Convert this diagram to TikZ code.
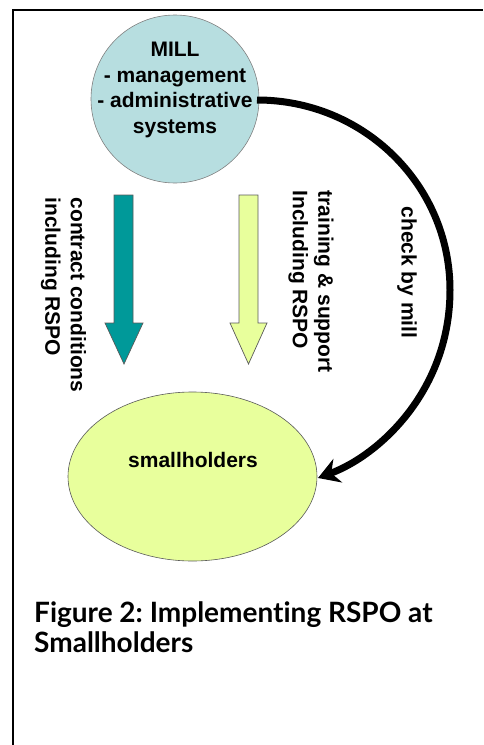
\documentclass[tikz,border=0pt]{standalone}
\usepackage{fontspec}
\setmainfont{Liberation Sans}
\newfontfamily\capfont[Ligatures=NoCommon]{Lato}
\usetikzlibrary{arrows.meta,shapes.geometric}
\definecolor{millblue}{RGB}{183,222,224}
\definecolor{teal2}{RGB}{0,153,153}
\definecolor{paleyel}{RGB}{232,255,156}
\definecolor{outl}{RGB}{90,90,90}
\tikzset{
  lbl/.style={font=\bfseries\fontsize{21}{25.5}\selectfont, inner sep=0pt, align=left},
  blockarrow/.style={draw=outl, line width=0.7pt},
  frameline/.style={line width=2.4pt, black},
}
\frenchspacing
\begin{document}
\begin{tikzpicture}[x=1pt,y=-1pt]
\useasboundingbox (0,0) rectangle (483,745);
% frame
\draw[frameline] (13,745) -- (13,10) -- (483,10);
% mill circle
\node[circle, draw=gray, line width=0.6pt, fill=millblue, minimum size=168pt, inner sep=0pt] (mill) at (175,99) {};
\node[lbl, align=center] (milltext) at (175,90) {MILL\\- management\\- administrative\\systems};
% smallholders ellipse
\node[ellipse, draw=outl, line width=0.6pt, fill=paleyel, minimum width=249pt, minimum height=169pt, inner sep=0pt] (small) at (192.5,476.5) {};
\node[lbl] (smalltext) at (193,460) {smallholders};
% block arrows
\draw[blockarrow, fill=teal2] (114,195) -- (133,195) -- (133,323) -- (143,323) -- (124,364) -- (105,323) -- (114,323) -- cycle;
\draw[blockarrow, fill=paleyel] (239,195) -- (258,195) -- (258,323) -- (267,323) -- (248.5,364) -- (230,323) -- (239,323) -- cycle;
% rotated labels
\node[lbl, rotate=-90] (contract) at (63.5,295) {contract conditions\\including RSPO};
\node[lbl, rotate=-90] (training) at (311,281.5) {training \& support\\Including RSPO};
\node[lbl, rotate=-90] (check) at (407,272.5) {check by mill};
% check connector
\coordinate (cstart) at (257,100);
\coordinate (cmid) at (450,290);
\coordinate (cend) at (318,478);
\draw[line width=7pt, -{Stealth[length=21pt,width=25pt,inset=7pt]}]
  (cstart) .. controls (364,100) and (450,185) .. (cmid)
  .. controls (450,390) and (380,455) .. (cend);
% caption
\node[font=\capfont\bfseries\fontsize{28}{30}\selectfont, anchor=base west, align=left, inner sep=0pt] (caption) at (34,652) {Figure 2: Implementing RSPO at\\Smallholders};
\end{tikzpicture}
\end{document}
